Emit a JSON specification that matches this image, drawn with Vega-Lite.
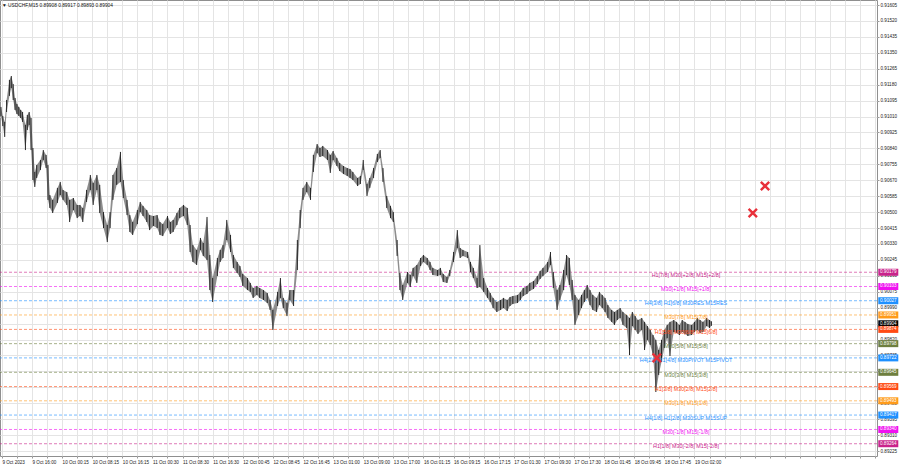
{
  "$schema": "https://vega.github.io/schema/vega-lite/v6.json",
  "width": 877,
  "height": 456,
  "autosize": {"type": "none"},
  "padding": {"left": 0, "top": 0, "right": 23, "bottom": 12},
  "background": "white",
  "config": {
    "view": {"stroke": "#8f8f8f", "strokeWidth": 1},
    "font": "Liberation Sans",
    "text": {"font": "Liberation Sans"}
  },
  "title": {
    "text": "▼ USDCHF,M15  0.89908 0.89917 0.89893 0.89904",
    "anchor": "start",
    "frame": "group",
    "orient": "top",
    "offset": -8,
    "dx": 2,
    "fontSize": 4.8,
    "fontWeight": "normal",
    "color": "#111"
  },
  "datasets": {
    "bars": [
      {"t":1,"h":0.91061,"l":0.91013},{"t":3,"h":0.91013,"l":0.90959},{"t":5,"h":0.90981,"l":0.90901},{"t":7,"h":0.91098,"l":0.91034},
      {"t":10,"h":0.91205,"l":0.91120},{"t":12,"h":0.91226,"l":0.91162},{"t":14,"h":0.91183,"l":0.91098},{"t":16,"h":0.91109,"l":0.91045},
      {"t":18,"h":0.91077,"l":0.91023},{"t":20,"h":0.91061,"l":0.91013},{"t":22,"h":0.91045,"l":0.91002},{"t":24,"h":0.91034,"l":0.90981},
      {"t":27,"h":0.90965,"l":0.90831},{"t":29,"h":0.91018,"l":0.90938},{"t":31,"h":0.91034,"l":0.90965},{"t":33,"h":0.91002,"l":0.90831},
      {"t":35,"h":0.90842,"l":0.90671},{"t":37,"h":0.90714,"l":0.90634},{"t":39,"h":0.90751,"l":0.90682},{"t":43,"h":0.90778,"l":0.90725},
      {"t":46,"h":0.90831,"l":0.90778},{"t":49,"h":0.90805,"l":0.90735},{"t":51,"h":0.90751,"l":0.90565},{"t":53,"h":0.90591,"l":0.90522},
      {"t":56,"h":0.90565,"l":0.90495},{"t":61,"h":0.90629,"l":0.90549},{"t":64,"h":0.90661,"l":0.90591},{"t":67,"h":0.90618,"l":0.90565},
      {"t":71,"h":0.90607,"l":0.90538},{"t":74,"h":0.90565,"l":0.90447},{"t":78,"h":0.90575,"l":0.90511},{"t":82,"h":0.90538,"l":0.90468},
      {"t":85,"h":0.90538,"l":0.90479},{"t":88,"h":0.90522,"l":0.90447},{"t":92,"h":0.90618,"l":0.90554},{"t":96,"h":0.90698,"l":0.90618},
      {"t":99,"h":0.90655,"l":0.90538},{"t":103,"h":0.90698,"l":0.90618},{"t":106,"h":0.90645,"l":0.90495},{"t":110,"h":0.90500,"l":0.90415},
      {"t":114,"h":0.90431,"l":0.90340},{"t":117,"h":0.90500,"l":0.90415},{"t":120,"h":0.90698,"l":0.90565},{"t":124,"h":0.90735,"l":0.90645},
      {"t":128,"h":0.90821,"l":0.90661},{"t":131,"h":0.90671,"l":0.90575},{"t":135,"h":0.90565,"l":0.90484},{"t":138,"h":0.90484,"l":0.90394},
      {"t":141,"h":0.90447,"l":0.90378},{"t":146,"h":0.90511,"l":0.90436},{"t":149,"h":0.90554,"l":0.90500},{"t":152,"h":0.90533,"l":0.90479},
      {"t":156,"h":0.90511,"l":0.90447},{"t":159,"h":0.90484,"l":0.90404},{"t":163,"h":0.90479,"l":0.90426},{"t":167,"h":0.90484,"l":0.90415},
      {"t":170,"h":0.90447,"l":0.90378},{"t":173,"h":0.90436,"l":0.90372},{"t":178,"h":0.90479,"l":0.90415},{"t":181,"h":0.90447,"l":0.90383},
      {"t":184,"h":0.90458,"l":0.90394},{"t":188,"h":0.90495,"l":0.90431},{"t":191,"h":0.90522,"l":0.90468},{"t":195,"h":0.90538,"l":0.90479},
      {"t":199,"h":0.90522,"l":0.90431},{"t":202,"h":0.90431,"l":0.90287},{"t":205,"h":0.90324,"l":0.90234},{"t":209,"h":0.90298,"l":0.90218},
      {"t":213,"h":0.90362,"l":0.90298},{"t":216,"h":0.90335,"l":0.90266},{"t":220,"h":0.90474,"l":0.90244},{"t":223,"h":0.90271,"l":0.90084},
      {"t":226,"h":0.90148,"l":0.90020},{"t":231,"h":0.90255,"l":0.90159},{"t":234,"h":0.90298,"l":0.90234},{"t":237,"h":0.90324,"l":0.90255},
      {"t":241,"h":0.90458,"l":0.90351},{"t":245,"h":0.90378,"l":0.90287},{"t":248,"h":0.90271,"l":0.90202},{"t":252,"h":0.90234,"l":0.90175},
      {"t":255,"h":0.90212,"l":0.90154},{"t":258,"h":0.90170,"l":0.90106},{"t":263,"h":0.90148,"l":0.90084},{"t":266,"h":0.90122,"l":0.90074},
      {"t":269,"h":0.90095,"l":0.90042},{"t":273,"h":0.90106,"l":0.90058},{"t":276,"h":0.90095,"l":0.90042},{"t":280,"h":0.90084,"l":0.90031},
      {"t":284,"h":0.90068,"l":0.90015},{"t":287,"h":0.90031,"l":0.89978},{"t":290,"h":0.89978,"l":0.89871},{"t":295,"h":0.90074,"l":0.89999},
      {"t":298,"h":0.90148,"l":0.90042},{"t":301,"h":0.90042,"l":0.89988},{"t":305,"h":0.90015,"l":0.89945},{"t":308,"h":0.90084,"l":0.90031},
      {"t":312,"h":0.90084,"l":0.89999},{"t":316,"h":0.90351,"l":0.90191},{"t":319,"h":0.90511,"l":0.90415},{"t":322,"h":0.90629,"l":0.90565},
      {"t":326,"h":0.90661,"l":0.90607},{"t":330,"h":0.90629,"l":0.90565},{"t":333,"h":0.90805,"l":0.90714},{"t":337,"h":0.90863,"l":0.90815},
      {"t":340,"h":0.90842,"l":0.90794},{"t":343,"h":0.90853,"l":0.90799},{"t":348,"h":0.90831,"l":0.90778},{"t":351,"h":0.90805,"l":0.90709},
      {"t":354,"h":0.90826,"l":0.90778},{"t":358,"h":0.90789,"l":0.90746},{"t":361,"h":0.90762,"l":0.90719},{"t":365,"h":0.90746,"l":0.90703},
      {"t":369,"h":0.90735,"l":0.90693},{"t":372,"h":0.90730,"l":0.90682},{"t":375,"h":0.90714,"l":0.90671},{"t":380,"h":0.90682,"l":0.90639},
      {"t":383,"h":0.90693,"l":0.90650},{"t":386,"h":0.90778,"l":0.90725},{"t":390,"h":0.90650,"l":0.90586},{"t":393,"h":0.90682,"l":0.90629},
      {"t":397,"h":0.90735,"l":0.90682},{"t":401,"h":0.90810,"l":0.90767},{"t":404,"h":0.90831,"l":0.90789},{"t":407,"h":0.90735,"l":0.90661},
      {"t":411,"h":0.90586,"l":0.90522},{"t":415,"h":0.90533,"l":0.90468},{"t":418,"h":0.90500,"l":0.90447},{"t":422,"h":0.90351,"l":0.90266},
      {"t":425,"h":0.90175,"l":0.90084},{"t":428,"h":0.90111,"l":0.90031},{"t":433,"h":0.90180,"l":0.90122},{"t":436,"h":0.90164,"l":0.90100},
      {"t":439,"h":0.90202,"l":0.90159},{"t":443,"h":0.90218,"l":0.90122},{"t":447,"h":0.90255,"l":0.90212},{"t":450,"h":0.90271,"l":0.90234},
      {"t":454,"h":0.90255,"l":0.90218},{"t":457,"h":0.90234,"l":0.90191},{"t":460,"h":0.90202,"l":0.90164},{"t":465,"h":0.90191,"l":0.90159},
      {"t":468,"h":0.90202,"l":0.90164},{"t":471,"h":0.90170,"l":0.90127},{"t":475,"h":0.90154,"l":0.90122},{"t":478,"h":0.90191,"l":0.90159},
      {"t":482,"h":0.90287,"l":0.90234},{"t":486,"h":0.90404,"l":0.90308},{"t":489,"h":0.90308,"l":0.90255},{"t":492,"h":0.90298,"l":0.90266},
      {"t":497,"h":0.90287,"l":0.90255},{"t":500,"h":0.90234,"l":0.90180},{"t":503,"h":0.90202,"l":0.90148},{"t":507,"h":0.90148,"l":0.90095},
      {"t":510,"h":0.90324,"l":0.90100},{"t":514,"h":0.90148,"l":0.90074},{"t":518,"h":0.90095,"l":0.90042},{"t":521,"h":0.90068,"l":0.90020},
      {"t":524,"h":0.90042,"l":0.89988},{"t":528,"h":0.90020,"l":0.89967},{"t":532,"h":0.90031,"l":0.89978},{"t":535,"h":0.90042,"l":0.89988},
      {"t":539,"h":0.90031,"l":0.89972},{"t":542,"h":0.90047,"l":0.89999},{"t":545,"h":0.90052,"l":0.90010},{"t":550,"h":0.90058,"l":0.90015},
      {"t":553,"h":0.90074,"l":0.90031},{"t":556,"h":0.90095,"l":0.90052},{"t":560,"h":0.90106,"l":0.90063},{"t":563,"h":0.90122,"l":0.90079},
      {"t":567,"h":0.90132,"l":0.90090},{"t":571,"h":0.90159,"l":0.90116},{"t":574,"h":0.90186,"l":0.90143},{"t":577,"h":0.90202,"l":0.90159},
      {"t":582,"h":0.90234,"l":0.90180},{"t":585,"h":0.90287,"l":0.90218},{"t":588,"h":0.90180,"l":0.90095},{"t":592,"h":0.90084,"l":0.89978},
      {"t":595,"h":0.90111,"l":0.90031},{"t":599,"h":0.90191,"l":0.90084},{"t":602,"h":0.90271,"l":0.90164},{"t":605,"h":0.90255,"l":0.90111},
      {"t":608,"h":0.90138,"l":0.90031},{"t":611,"h":0.90058,"l":0.89898},{"t":615,"h":0.90031,"l":0.89951},{"t":618,"h":0.90058,"l":0.89988},
      {"t":621,"h":0.90084,"l":0.90020},{"t":624,"h":0.90111,"l":0.90042},{"t":627,"h":0.90084,"l":0.90004},{"t":630,"h":0.90058,"l":0.89978},
      {"t":634,"h":0.90042,"l":0.89967},{"t":637,"h":0.90074,"l":0.90004},{"t":640,"h":0.90058,"l":0.89988},{"t":643,"h":0.90042,"l":0.89967},
      {"t":646,"h":0.90004,"l":0.89935},{"t":650,"h":0.89978,"l":0.89914},{"t":653,"h":0.89967,"l":0.89898},{"t":656,"h":0.89978,"l":0.89924},
      {"t":659,"h":0.89988,"l":0.89935},{"t":662,"h":0.89967,"l":0.89898},{"t":666,"h":0.89951,"l":0.89882},{"t":669,"h":0.89935,"l":0.89737},
      {"t":672,"h":0.89967,"l":0.89892},{"t":675,"h":0.89945,"l":0.89871},{"t":678,"h":0.89924,"l":0.89850},{"t":682,"h":0.89935,"l":0.89871},
      {"t":685,"h":0.89914,"l":0.89764},{"t":688,"h":0.89892,"l":0.89818},{"t":691,"h":0.89871,"l":0.89791},{"t":694,"h":0.89844,"l":0.89737},
      {"t":697,"h":0.89818,"l":0.89540},{"t":700,"h":0.89764,"l":0.89631},{"t":703,"h":0.89818,"l":0.89700},{"t":706,"h":0.89871,"l":0.89775},
      {"t":709,"h":0.89898,"l":0.89828},{"t":712,"h":0.89914,"l":0.89732},{"t":716,"h":0.89924,"l":0.89860},{"t":719,"h":0.89914,"l":0.89855},
      {"t":722,"h":0.89898,"l":0.89844},{"t":725,"h":0.89924,"l":0.89860},{"t":728,"h":0.89914,"l":0.89850},{"t":731,"h":0.89903,"l":0.89839},
      {"t":735,"h":0.89898,"l":0.89844},{"t":738,"h":0.89914,"l":0.89860},{"t":741,"h":0.89935,"l":0.89871},{"t":744,"h":0.89924,"l":0.89855},
      {"t":747,"h":0.89914,"l":0.89860},{"t":751,"h":0.89935,"l":0.89892},{"t":754,"h":0.89924,"l":0.89882},{"t":756,"h":0.89917,"l":0.89893}
    ],
    "levels": [
      {"price":0.90179,"kind":"h1out","label":"H1[7/8] M30[+2/8] M15[+2/8]"},
      {"price":0.90103,"kind":"m1","label":"M30[+1/8] M15[+1/8]"},
      {"price":0.90027,"kind":"main","label":"H4[3/8] H1[6/8] M30RES M15RES"},
      {"price":0.89951,"kind":"o78","label":"M30[7/8] M15[7/8]"},
      {"price":0.89904,"kind":"price","label":""},
      {"price":0.89874,"kind":"o68","label":"H1[5/8] M30[6/8] M15[6/8]"},
      {"price":0.89798,"kind":"g58","label":"M30[5/8] M15[5/8]"},
      {"price":0.89722,"kind":"main","label":"H4[2/8] H1[4/8] M30PIVOT M15PIVOT"},
      {"price":0.89645,"kind":"g58","label":"M30[3/8] M15[3/8]"},
      {"price":0.89569,"kind":"o68","label":"H1[3/8] M30[2/8] M15[2/8]"},
      {"price":0.89493,"kind":"o78","label":"M30[1/8] M15[1/8]"},
      {"price":0.89417,"kind":"main","label":"H4[1/8] H1[2/8] M30SUP M15SUP"},
      {"price":0.89340,"kind":"m1","label":"M30[-1/8] M15[-1/8]"},
      {"price":0.89264,"kind":"h1out","label":"H1[1/8] M30[-2/8] M15[-2/8]"}
    ],
    "signals": [
      {"t":813,"price":0.90639},
      {"t":800,"price":0.90495},
      {"t":698,"price":0.89722}
    ]
  },
  "layer": [
    {
      "data": {"name": "levels"},
      "transform": [{"filter": "datum.kind != 'price'"}],
      "mark": {"type": "rule", "strokeDash": [3, 2], "strokeWidth": 1, "opacity": 0.6},
      "encoding": {
        "y": {
          "field": "price", "type": "quantitative",
          "scale": {"domain": [0.891985, 0.916317], "nice": false, "zero": false},
          "axis": {
            "orient": "right",
            "values": [0.89225,0.8931,0.89395,0.8948,0.89565,0.8965,0.89735,0.8982,0.89905,0.8999,0.90075,0.9016,0.90245,0.9033,0.90415,0.905,0.90585,0.9067,0.90755,0.9084,0.90925,0.9101,0.91095,0.9118,0.91265,0.9135,0.91435,0.9152,0.91605],
            "tickCount": 200,
            "format": ".5f",
            "title": null,
            "grid": true,
            "gridColor": "#e4e4e4",
            "gridWidth": 1,
            "domain": false,
            "tickSize": 2,
            "tickColor": "#999",
            "labelPadding": 1,
            "labelFontSize": 4.6,
            "labelColor": "#222",
            "labelFlush": false,
            "labelOverlap": false,
            "labelBaseline": "middle"
          }
        },
        "color": {
          "field": "kind", "type": "nominal", "legend": null,
          "scale": {
            "domain": ["h1out", "m1", "main", "o78", "o68", "g58", "price"],
            "range": ["#c9238b", "#f010f0", "#1e90ff", "#ff9b1a", "#ff4a14", "#6e7f3f", "#000000"]
          }
        }
      }
    },
    {
      "data": {"name": "bars"},
      "mark": {"type": "area", "color": "#7a7a7a", "opacity": 0.85, "interpolate": "linear"},
      "encoding": {
        "x": {
          "field": "t", "type": "quantitative",
          "scale": {"domain": [0, 932], "nice": false, "zero": false},
          "axis": {
            "orient": "bottom",
            "values": [2,18,34,50,66,82,98,114,130,146,162,178,194,210,226,242,258,274,290,306,322,338,354,370,386,402,418,434,450,466,482,498,514,530,546,562,578,594,610,626,642,658,674,690,706,722,738,754,770,786,802,818,834,850,866,882,898,914,930],
            "tickCount": 200,
            "labelExpr": "(datum.value - 2) % 32 == 0 ? (['9 Oct 2023','9 Oct 16:00','10 Oct 00:15','10 Oct 08:15','10 Oct 16:15','11 Oct 00:30','11 Oct 08:30','11 Oct 16:30','12 Oct 00:45','12 Oct 08:45','12 Oct 16:45','13 Oct 01:00','13 Oct 09:00','13 Oct 17:00','16 Oct 01:15','16 Oct 09:15','16 Oct 17:15','17 Oct 01:30','17 Oct 09:30','17 Oct 17:30','18 Oct 01:45','18 Oct 09:45','18 Oct 17:45','19 Oct 02:00'][(datum.value - 2) / 32] || '') : ''",
            "title": null,
            "grid": true,
            "gridColor": "#e4e4e4",
            "gridWidth": 1,
            "domain": false,
            "tickSize": 2,
            "tickColor": "#999",
            "labelPadding": 1,
            "labelFontSize": 4.6,
            "labelColor": "#222",
            "labelAlign": "left",
            "labelBaseline": "top",
            "labelFlush": false,
            "labelOverlap": false
          }
        },
        "y": {"field": "h", "type": "quantitative"},
        "y2": {"field": "l"}
      }
    },
    {
      "data": {"name": "bars"},
      "mark": {"type": "rule", "color": "#262626", "strokeWidth": 1},
      "encoding": {
        "x": {"field": "t", "type": "quantitative"},
        "y": {"field": "h", "type": "quantitative"},
        "y2": {"field": "l"}
      }
    },
    {
      "data": {"name": "levels"},
      "transform": [{"filter": "datum.kind != 'price'"}],
      "mark": {"type": "text", "fontSize": 5.4, "align": "center", "baseline": "middle", "dy": 2.5},
      "encoding": {
        "x": {"datum": 729, "type": "quantitative"},
        "y": {"field": "price", "type": "quantitative"},
        "text": {"field": "label"},
        "color": {"field": "kind", "type": "nominal", "legend": null}
      }
    },
    {
      "data": {"name": "levels"},
      "mark": {"type": "tick", "orient": "vertical", "thickness": 20, "size": 7, "opacity": 1, "clip": false},
      "encoding": {
        "x": {"datum": 944, "type": "quantitative"},
        "y": {"field": "price", "type": "quantitative"},
        "color": {"field": "kind", "type": "nominal", "legend": null}
      }
    },
    {
      "data": {"name": "levels"},
      "mark": {"type": "text", "fontSize": 4.6, "align": "center", "baseline": "middle", "color": "white", "clip": false},
      "encoding": {
        "x": {"datum": 944, "type": "quantitative"},
        "y": {"field": "price", "type": "quantitative"},
        "text": {"field": "price", "type": "quantitative", "format": ".5f"}
      }
    },
    {
      "data": {"name": "signals"},
      "mark": {"type": "point", "shape": "M-1,-1L1,1M-1,1L1,-1", "filled": false, "size": 70, "strokeWidth": 2.4, "color": "#e8303a", "opacity": 1},
      "encoding": {
        "x": {"field": "t", "type": "quantitative"},
        "y": {"field": "price", "type": "quantitative"}
      }
    }
  ]
}
